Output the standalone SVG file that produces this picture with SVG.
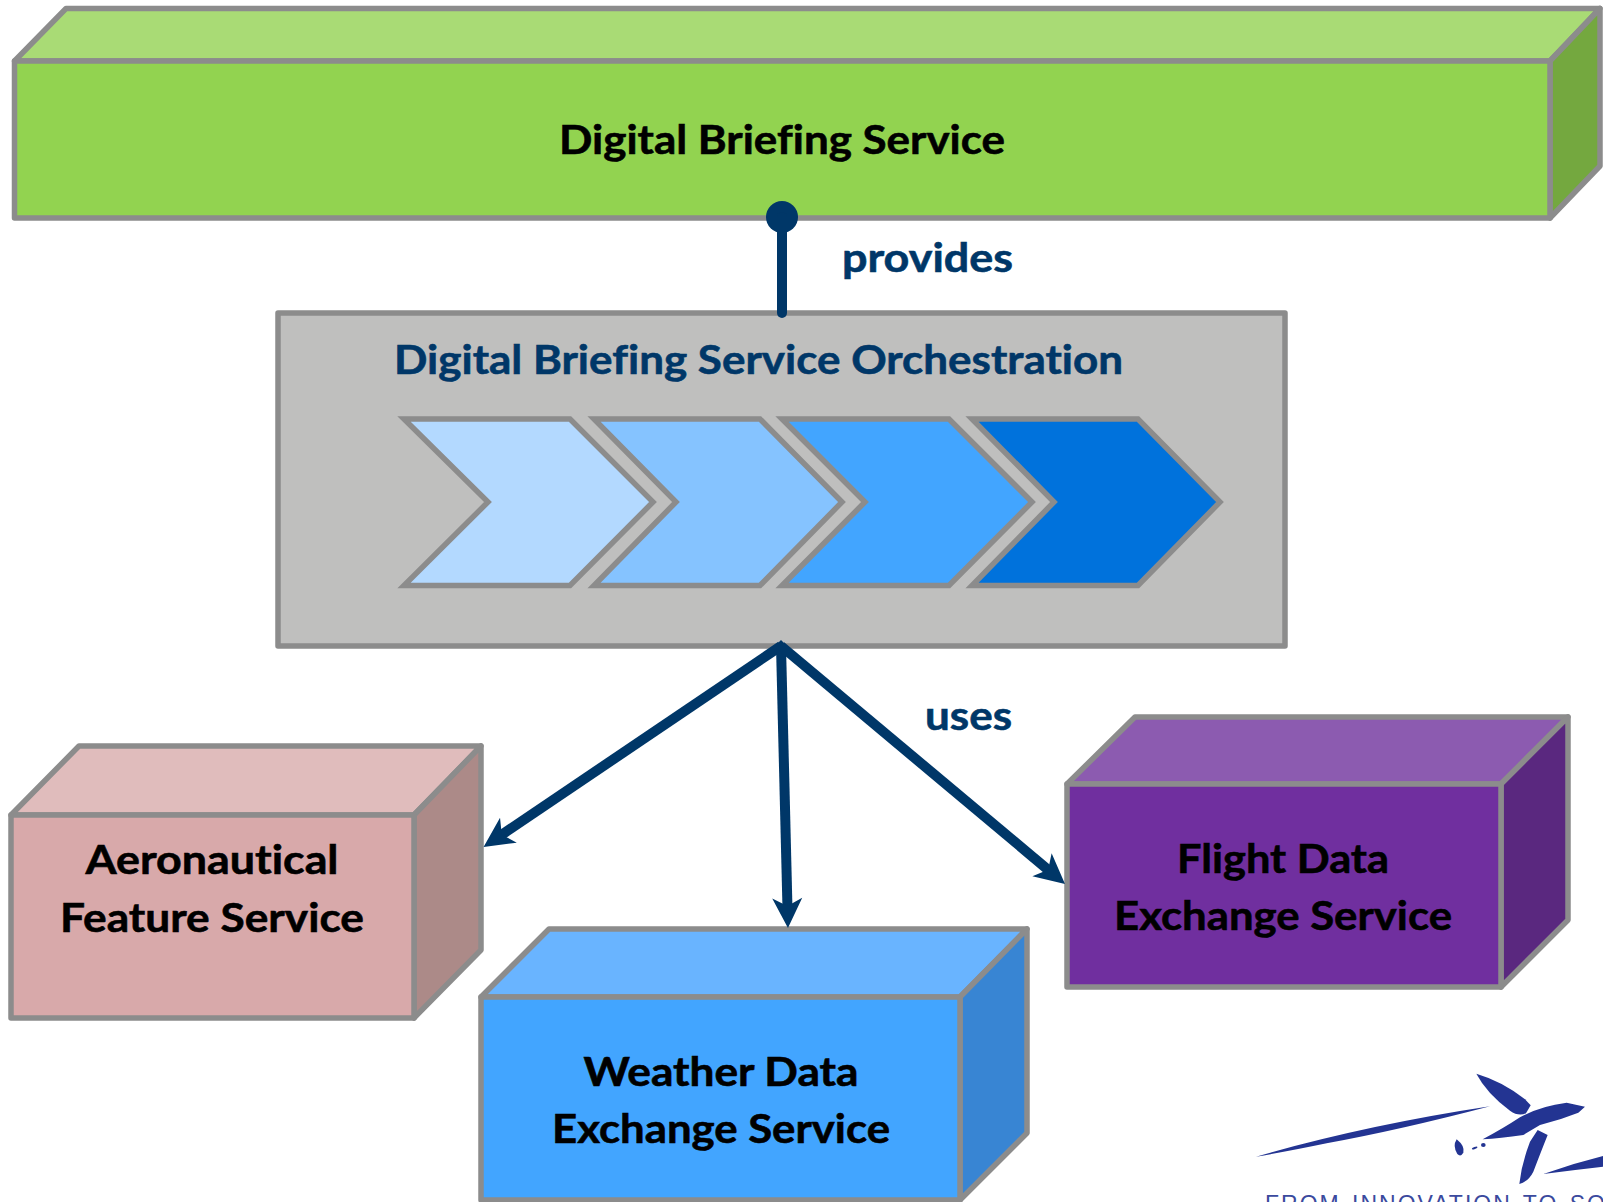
<svg xmlns="http://www.w3.org/2000/svg" width="1603" height="1202" viewBox="0 0 1603 1202">
<style>
.e{stroke:#8c8c8c;stroke-width:5.500;stroke-linejoin:round}
.s{stroke-linejoin:miter}
.b,.n{font-family:"Lato","Carlito","Open Sans",sans-serif;font-weight:700;font-size:41px;font-variant-ligatures:none;stroke-width:.6}
.b{fill:#000;stroke:#000}
.n{fill:#003768;stroke:#003768}
.c{fill:none;stroke:#003768;stroke-width:10}
.m{text-anchor:middle}
</style>
<defs>
<marker id="ah" markerUnits="userSpaceOnUse" markerWidth="34" markerHeight="36" refX="15" refY="18" orient="auto" overflow="visible"><path d="M0 3L30 18L0 33L8 18Z" fill="#003768"/></marker>
</defs>
<rect width="1603" height="1202" fill="#fff"/>
<g id="digital-briefing-service">
<polygon class="e" points="14.500,61 66,8.500 1600,8.500 1550,61" fill="#a9db75"/>
<polygon class="e" points="1550,61 1600,8.500 1600,166 1550,218" fill="#74a83f"/>
<rect class="e" x="14.500" y="61" width="1535.500" height="157" fill="#92d350"/>
<text class="b m" x="782" y="154" textLength="446" lengthAdjust="spacingAndGlyphs">Digital Briefing Service</text>
</g>
<g id="orchestration">
<rect class="e" x="278" y="313" width="1007" height="333" fill="#bfbfbe"/>
<text class="n" x="394" y="373.500" textLength="729" lengthAdjust="spacingAndGlyphs">Digital Briefing Service Orchestration</text>
</g>
<g id="chevron-1"><polygon class="e s" points="404,419 570,419 653,502 570,585.500 404,585.500 488,502" fill="#b3d9ff"/></g>
<g id="chevron-2"><polygon class="e s" points="594,419 760,419 842,502 760,585.500 594,585.500 676,502" fill="#85c3ff"/></g>
<g id="chevron-3"><polygon class="e s" points="782,419 949,419 1032,502 949,585.500 782,585.500 865,502" fill="#42a5ff"/></g>
<g id="chevron-4"><polygon class="e s" points="972,419 1138,419 1220,502 1138,585.500 972,585.500 1054,502" fill="#0072dc"/></g>
<g id="aeronautical-feature-service">
<polygon class="e" points="11,815 79,746 481,746 414,815" fill="#e0bcbc"/>
<polygon class="e" points="414,815 481,746 481,950 414,1018" fill="#ac8a88"/>
<rect class="e" x="11" y="815" width="403" height="203" fill="#d8a9aa"/>
<text class="b m" x="212" y="873.500" textLength="253" lengthAdjust="spacingAndGlyphs">Aeronautical</text>
<text class="b m" x="212" y="931.500" textLength="304" lengthAdjust="spacingAndGlyphs">Feature Service</text>
</g>
<g id="weather-data-exchange-service">
<polygon class="e" points="481,997 549,929 1027,929 960,997" fill="#69b4ff"/>
<polygon class="e" points="960,997 1027,929 1027,1133 960,1200" fill="#3885d3"/>
<rect class="e" x="481" y="997" width="479" height="203" fill="#42a5ff"/>
<text class="b m" x="721" y="1085.500" textLength="275" lengthAdjust="spacingAndGlyphs">Weather Data</text>
<text class="b m" x="721" y="1142.500" textLength="338" lengthAdjust="spacingAndGlyphs">Exchange Service</text>
</g>
<g id="flight-data-exchange-service">
<polygon class="e" points="1067,784 1135,717 1568,717 1501,784" fill="#8c5bb0"/>
<polygon class="e" points="1501,784 1568,717 1568,920 1501,987" fill="#5a287f"/>
<rect class="e" x="1067" y="784" width="434" height="203" fill="#702f9f"/>
<text class="b m" x="1283" y="872.500" textLength="212" lengthAdjust="spacingAndGlyphs">Flight Data</text>
<text class="b m" x="1283" y="929.500" textLength="338" lengthAdjust="spacingAndGlyphs">Exchange Service</text>
</g>
<g id="connectors">
<circle cx="782" cy="217" r="16" fill="#003768"/>
<line class="c" x1="782" y1="217" x2="782" y2="313" stroke-linecap="round"/>
<line class="c" x1="781" y1="646" x2="496" y2="838.600" marker-end="url(#ah)"/>
<line class="c" x1="781" y1="646" x2="787.600" y2="913" marker-end="url(#ah)"/>
<line class="c" x1="781" y1="646" x2="1053.500" y2="874.300" marker-end="url(#ah)"/>
<polygon points="781,640 789,648 773,648" fill="#003768"/>
</g>
<text class="n" x="842" y="272" textLength="171" lengthAdjust="spacingAndGlyphs">provides</text>
<text class="n" x="925" y="730" textLength="87" lengthAdjust="spacingAndGlyphs">uses</text>
<g id="logo">
<g transform="translate(1200 1040) scale(.33333)" fill="#233492">
<path d="M168 350Q500 255 870 199Q600 270 380 310Q260 335 168 350Z"/>
<path d="M829 101Q910 125 975 178L992 196L978 220Q955 230 930 212Q860 160 829 101Z"/>
<path d="M848 298Q910 265 960 232Q1020 198 1100 188L1155 200L1135 218Q1080 240 1020 255L970 285Q900 295 848 298Z"/>
<path d="M1013 270L1043 285Q1025 330 1000 395Q985 425 958 432Q965 370 990 305Z"/>
<path d="M1030 402Q1120 370 1209 348L1209 380Q1120 390 1030 402Z"/>
<path d="M770 298Q795 318 790 338Q782 352 772 342Q757 318 770 298Z"/>
<ellipse cx="850" cy="315" rx="7" ry="6"/>
<ellipse cx="824" cy="324" rx="9" ry="3" transform="rotate(-20 824 324)"/>
</g>
<text x="1265" y="1212" font-family="Liberation Sans,Arial,sans-serif" font-size="23" letter-spacing="2" word-spacing="3" fill="#3b4a9e">FROM INNOVATION TO SOL</text>
</g>
</svg>
